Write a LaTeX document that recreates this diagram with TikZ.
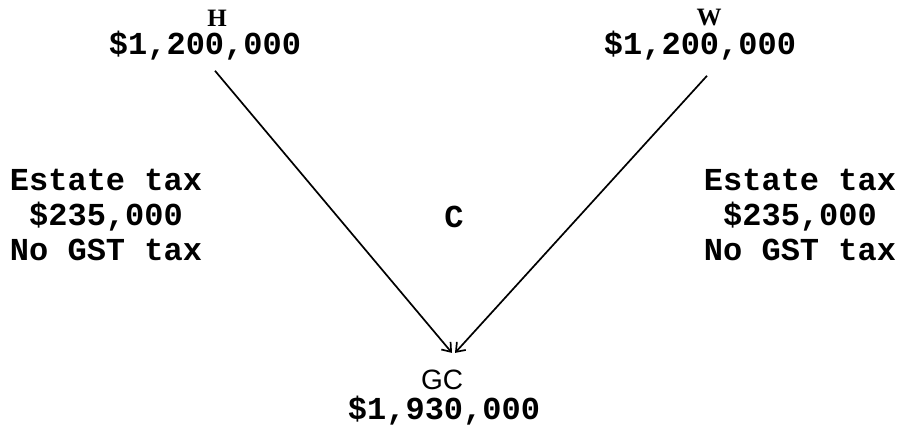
\documentclass[tikz,border=0pt]{standalone}
\usepackage{fontspec}
\usetikzlibrary{arrows.meta}
\newfontfamily\typewfont{Liberation Mono}
\newfontfamily\namefont{Liberation Serif}
\newfontfamily\grandfont{Liberation Sans}

\begin{document}
\begin{tikzpicture}[
    x=1pt, y=-1pt,
    amount/.style={inner sep=0pt, align=center,
      font=\fontsize{32}{35}\selectfont\typewfont\bfseries},
    person/.style={inner sep=0pt, font=\fontsize{25}{27}\selectfont\namefont\bfseries},
    grandchild/.style={inner sep=0pt, font=\fontsize{28}{30}\selectfont\grandfont},
    arrow/.style={-{Straight Barb[length=8pt,width=12pt]}, line width=1.7pt}
  ]
    \useasboundingbox (0,0) rectangle (902,429);

    \node[person] (h) at (217,18) {H};
    \node[amount] (hval) at (205,46) {\$1,200,000};
    \node[person] (w) at (709,18) {W};
    \node[amount] (wval) at (700,46) {\$1,200,000};

    \node[amount] (taxl) at (106,215) {Estate tax\\\$235,000\\No GST tax};
    \node[amount] (taxr) at (800,215) {Estate tax\\\$235,000\\No GST tax};
    \node[amount] (c) at (454,217) {C};

    \node[grandchild] (gc) at (442,380) {GC};
    \node[amount] (gcval) at (444,411) {\$1,930,000};

    \draw[arrow] ([xshift=10pt,yshift=-10pt]hval.south) -- ([xshift=10pt,yshift=17pt]gc.north);
    \draw[arrow] ([xshift=7pt,yshift=-15pt]wval.south) -- ([xshift=13pt,yshift=17pt]gc.north);
  \end{tikzpicture}
\end{document}
